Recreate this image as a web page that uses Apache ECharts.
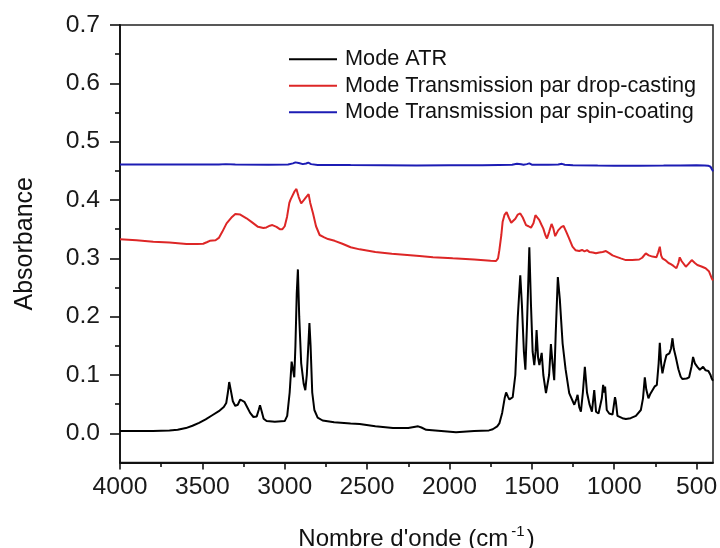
<!DOCTYPE html>
<html>
<head>
<meta charset="utf-8">
<title>Spectres IR</title>
<script src="https://cdn.jsdelivr.net/npm/echarts@6.0.0/dist/echarts.min.js"></script>
<style>
  html, body { margin: 0; padding: 0; background: #fff; }
  #chart { width: 720px; height: 548px; }
</style>
</head>
<body>
<div id="chart"></div>
<script>
// noms des courbes (legende)
const seriesNames = ['Mode ATR', 'Mode Transmission par drop-casting', 'Mode Transmission par spin-coating']

// graduations
const xMajorTicks = [500, 1000, 1500, 2000, 2500, 3000, 3500, 4000]
const xMinorTicks = [750, 1250, 1750, 2250, 2750, 3250, 3750]
const yMajorTicks = [0, 0.1, 0.2, 0.3, 0.4, 0.5, 0.6, 0.7]
const yMinorTicks = [0.05, 0.15, 0.25, 0.35, 0.45, 0.55, 0.65]

// Mode ATR
const atrX = [4000, 3900, 3800, 3700, 3650, 3600, 3560, 3520, 3480, 3440, 3400, 3370, 3355, 3345, 3337, 3328, 3315, 3300, 3285, 3270,
  3258, 3245, 3230, 3210, 3190, 3170, 3158, 3150, 3140, 3128, 3110, 3060, 3000, 2985, 2970, 2958, 2950, 2942, 2935, 2927,
  2920, 2912, 2900, 2885, 2875, 2866, 2862, 2855, 2850, 2843, 2833, 2820, 2800, 2770, 2700, 2600, 2545, 2450, 2343, 2250,
  2190, 2182, 2170, 2141, 2050, 1960, 1850, 1760, 1737, 1710, 1697, 1680, 1665, 1656, 1645, 1636, 1625, 1616, 1600, 1585,
  1570, 1560, 1548, 1539, 1530, 1515, 1505, 1495, 1485, 1477, 1471, 1462, 1454, 1440, 1430, 1414, 1405, 1395, 1384, 1374,
  1364, 1355, 1342, 1330, 1313, 1295, 1273, 1242, 1228, 1222, 1212, 1202, 1190, 1178, 1165, 1150, 1135, 1121, 1110, 1095,
  1075, 1067, 1061, 1055, 1045, 1030, 1010, 995, 990, 980, 974, 950, 929, 900, 868, 838, 825, 814, 805, 792,
  780, 768, 755, 741, 730, 723, 715, 707, 695, 683, 665, 655, 646, 638, 626, 610, 596, 585, 574, 560,
  545, 530, 521, 510, 495, 480, 460, 445, 428, 415, 408, 400]
const atrY = [0.004, 0.004, 0.004, 0.005, 0.006, 0.009, 0.013, 0.018, 0.024, 0.031, 0.038, 0.045, 0.052, 0.07, 0.088, 0.075, 0.055, 0.047, 0.049, 0.058,
  0.055, 0.054, 0.046, 0.035, 0.028, 0.029, 0.040, 0.048, 0.038, 0.025, 0.021, 0.020, 0.021, 0.03, 0.07, 0.123, 0.11, 0.096, 0.15, 0.24,
  0.281, 0.2, 0.12, 0.085, 0.074, 0.1, 0.098, 0.16, 0.189, 0.15, 0.07, 0.04, 0.027, 0.022, 0.019, 0.017, 0.016, 0.012, 0.009, 0.009,
  0.012, 0.014, 0.01, 0.006, 0.004, 0.002, 0.004, 0.005, 0.007, 0.012, 0.017, 0.035, 0.06, 0.07, 0.063, 0.058, 0.06, 0.062, 0.1, 0.2,
  0.271, 0.22, 0.14, 0.109, 0.18, 0.319, 0.22, 0.14, 0.117, 0.14, 0.177, 0.13, 0.117, 0.138, 0.1, 0.069, 0.072, 0.1, 0.153, 0.12,
  0.091, 0.17, 0.268, 0.23, 0.154, 0.11, 0.069, 0.049, 0.06, 0.066, 0.045, 0.037, 0.07, 0.114, 0.07, 0.05, 0.037, 0.074, 0.037, 0.034,
  0.06, 0.083, 0.07, 0.08, 0.04, 0.034, 0.032, 0.062, 0.055, 0.03, 0.029, 0.026, 0.0245, 0.026, 0.03, 0.04, 0.06, 0.096, 0.075, 0.06,
  0.068, 0.071, 0.08, 0.083, 0.12, 0.155, 0.12, 0.103, 0.12, 0.134, 0.137, 0.145, 0.163, 0.145, 0.131, 0.11, 0.097, 0.093, 0.09, 0.094,
  0.096, 0.115, 0.131, 0.12, 0.114, 0.109, 0.114, 0.108, 0.107, 0.1, 0.094, 0.09]

// Mode Transmission par drop-casting
const dropX = [4000, 3900, 3798, 3700, 3596, 3530, 3495, 3470, 3455, 3420, 3400, 3380, 3353, 3320, 3300, 3289, 3270, 3232, 3200, 3162,
  3130, 3111, 3090, 3075, 3050, 3030, 3014, 3000, 2986, 2972, 2964, 2954, 2940, 2929, 2915, 2900, 2889, 2870, 2855, 2845,
  2828, 2810, 2788, 2760, 2737, 2697, 2650, 2600, 2545, 2450, 2350, 2182, 2100, 1980, 1850, 1750, 1717, 1705, 1697, 1685,
  1677, 1665, 1653, 1640, 1625, 1616, 1600, 1585, 1570, 1555, 1535, 1520, 1505, 1490, 1478, 1471, 1455, 1442, 1430, 1418,
  1408, 1395, 1380, 1370, 1358, 1340, 1320, 1307, 1290, 1275, 1253, 1235, 1212, 1195, 1180, 1165, 1151, 1130, 1111, 1090,
  1070, 1050, 1030, 1010, 990, 960, 929, 890, 848, 830, 808, 790, 768, 743, 733, 723, 715, 707, 690, 670,
  656, 640, 622, 610, 602, 590, 565, 550, 529, 510, 495, 470, 445, 425, 408, 400]
const dropY = [0.3326, 0.331, 0.3285, 0.327, 0.3245, 0.3245, 0.325, 0.328, 0.330, 0.331, 0.335, 0.345, 0.36, 0.371, 0.376, 0.377, 0.375, 0.3686, 0.362, 0.354,
  0.352, 0.353, 0.356, 0.357, 0.354, 0.350, 0.350, 0.355, 0.371, 0.395, 0.401, 0.403, 0.415, 0.419, 0.405, 0.394, 0.3926, 0.405, 0.41, 0.395,
  0.377, 0.355, 0.34, 0.336, 0.333, 0.33, 0.325, 0.319, 0.3154, 0.311, 0.308, 0.304, 0.302, 0.30, 0.298, 0.296, 0.2954, 0.3, 0.314, 0.34,
  0.3628, 0.375, 0.379, 0.37, 0.361, 0.36, 0.368, 0.375, 0.377, 0.37, 0.357, 0.355, 0.3525, 0.36, 0.374, 0.3755, 0.366, 0.358, 0.351, 0.34,
  0.334, 0.345, 0.359, 0.352, 0.338, 0.348, 0.354, 0.3554, 0.345, 0.335, 0.32, 0.314, 0.3125, 0.3143, 0.312, 0.314, 0.311, 0.31, 0.3086, 0.31,
  0.311, 0.3125, 0.309, 0.305, 0.303, 0.30, 0.297, 0.297, 0.298, 0.301, 0.3086, 0.305, 0.303, 0.302, 0.31, 0.32, 0.305, 0.30, 0.297, 0.292,
  0.29, 0.287, 0.283, 0.292, 0.3017, 0.295, 0.2857, 0.29, 0.297, 0.292, 0.2886, 0.286, 0.283, 0.278, 0.266, 0.262]

// Mode Transmission par spin-coating
const spinX = [4000, 3700, 3400, 3358, 3300, 3100, 2980, 2950, 2935, 2928, 2915, 2905, 2890, 2870, 2857, 2840, 2800, 2600, 2400, 2200,
  2000, 1800, 1700, 1620, 1590, 1580, 1565, 1550, 1530, 1515, 1500, 1400, 1340, 1317, 1300, 1250, 1100, 1000, 850, 700,
  600, 500, 450, 430, 415, 405, 400]
const spinY = [0.461, 0.461, 0.4608, 0.4615, 0.461, 0.4605, 0.461, 0.4628, 0.4645, 0.466, 0.4635, 0.4625, 0.4615, 0.4625, 0.464, 0.4615, 0.4602, 0.4598, 0.4595, 0.4593,
  0.4595, 0.4597, 0.4602, 0.4605, 0.462, 0.4635, 0.4612, 0.4605, 0.4615, 0.4628, 0.4605, 0.4603, 0.461, 0.462, 0.4605, 0.4595, 0.459, 0.4588, 0.4588, 0.459,
  0.4592, 0.4595, 0.4593, 0.4588, 0.457, 0.452, 0.449]

const colors = ['#000000', '#dd2626', '#1c1cb4']
const font = "'Liberation Sans', Arial, sans-serif"

function pairs(xs, ys) {
  return xs.map((x, i) => [x, ys[i]])
}

const chart = echarts.init(document.getElementById('chart'), null, { renderer: 'canvas' })

const option = {
  animation: false,
  backgroundColor: '#fff',
  textStyle: { fontFamily: font },
  grid: {
    left: 120,
    right: 7,
    top: 25,
    bottom: 85.5,
    outerBoundsMode: 'none',
    show: true,
    borderColor: '#222',
    borderWidth: 1.5
  },
  legend: {
    orient: 'vertical',
    left: 289,
    top: 46,
    padding: 0,
    icon: 'rect',
    itemWidth: 48,
    itemHeight: 2,
    itemGap: 0,
    textStyle: { fontSize: 21.7, color: '#111', lineHeight: 26.5, padding: [0, 0, 0, 3], fontFamily: font },
    data: seriesNames
  },
  xAxis: [
    {
      type: 'value',
      min: 400,
      max: 4000,
      inverse: true,
      position: 'bottom',
      name: "Nombre d'onde (cm{sup|-1})",
      nameLocation: 'middle',
      nameGap: 62,
      nameTextStyle: {
        fontSize: 24,
        color: '#111',
        fontFamily: font,
        rich: {
          sup: { fontSize: 15, fontFamily: font, color: '#111', padding: [0, 2, 14, 3] }
        }
      },
      axisLine: { show: true, onZero: false, lineStyle: { color: '#111', width: 1.8 } },
      axisTick: { show: true, customValues: xMajorTicks, length: 7, lineStyle: { color: '#111', width: 1.6 } },
      axisLabel: {
        customValues: xMajorTicks,
        fontSize: 24.7,
        color: '#1a1a1a',
        margin: 12,
        fontFamily: font,
        formatter: v => String(v)
      },
      splitLine: { show: false }
    },
    {
      // petites graduations
      type: 'value',
      min: 400,
      max: 4000,
      inverse: true,
      position: 'bottom',
      axisLine: { show: false, onZero: false },
      axisTick: { show: true, customValues: xMinorTicks, length: 4.5, lineStyle: { color: '#111', width: 1.6 } },
      axisLabel: { show: false },
      splitLine: { show: false }
    }
  ],
  yAxis: [
    {
      type: 'value',
      min: -0.05,
      max: 0.7,
      position: 'left',
      name: 'Absorbance',
      nameLocation: 'middle',
      nameGap: 82,
      nameTextStyle: { fontSize: 25, color: '#111', fontFamily: font },
      axisLine: { show: true, onZero: false, lineStyle: { color: '#111', width: 1.8 } },
      axisTick: { show: true, customValues: yMajorTicks, length: 10, lineStyle: { color: '#111', width: 1.6 } },
      axisLabel: {
        customValues: yMajorTicks,
        fontSize: 24.7,
        color: '#1a1a1a',
        margin: 20,
        fontFamily: font,
        formatter: v => v.toFixed(1)
      },
      splitLine: { show: false }
    },
    {
      type: 'value',
      min: -0.05,
      max: 0.7,
      position: 'left',
      axisLine: { show: false, onZero: false },
      axisTick: { show: true, customValues: yMinorTicks, length: 5, lineStyle: { color: '#111', width: 1.6 } },
      axisLabel: { show: false },
      splitLine: { show: false }
    }
  ],
  series: [
    {
      name: seriesNames[0],
      type: 'line',
      symbol: 'none',
      color: colors[0],
      lineStyle: { width: 2, color: colors[0] },
      data: pairs(atrX, atrY)
    },
    {
      name: seriesNames[1],
      type: 'line',
      symbol: 'none',
      color: colors[1],
      lineStyle: { width: 2, color: colors[1] },
      data: pairs(dropX, dropY)
    },
    {
      name: seriesNames[2],
      type: 'line',
      symbol: 'none',
      color: colors[2],
      lineStyle: { width: 2, color: colors[2] },
      data: pairs(spinX, spinY)
    }
  ]
}

chart.setOption(option)
</script>
</body>
</html>
